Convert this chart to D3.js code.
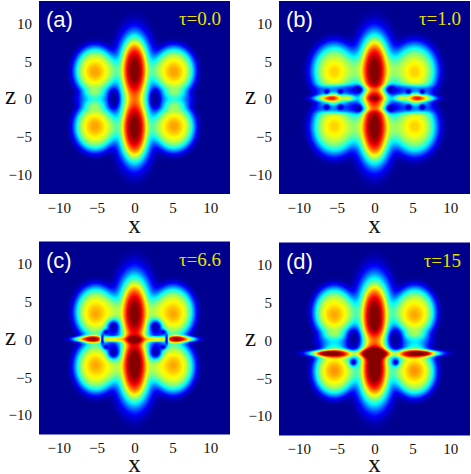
<!DOCTYPE html>
<html>
<head>
<meta charset="utf-8">
<script src="https://cdnjs.cloudflare.com/ajax/libs/d3/7.8.5/d3.min.js"></script>
<style>
html, body { margin: 0; padding: 0; background: #fff; }
svg { display: block; }
.tick text { font-family: "Liberation Serif", serif; font-size: 15px; fill: #111; }
</style>
</head>
<body>
<svg width="471" height="474">
  <defs><filter id="soft"><feGaussianBlur stdDeviation="0.6"></feGaussianBlur></filter></defs>
</svg>
<script>
var svg = d3.select("svg");

// values. Each field is an estimate built from
// bright lobes and dark holes, not the original data.
// lobe / hole rows: x, z, strength, x width, z width, edge sharpness
// rows with x != 0 are drawn on both sides of x = 0
var panelNames = ["(a)", "(b)", "(c)", "(d)"];
var tauLabels = ["τ=0.0", "τ=1.0", "τ=6.6", "τ=15"];
var xTicks = [-10, -5, 0, 5, 10];
var zTicks = [-10, -5, 0, 5, 10];
var xDomain = [-12.6, 12.6];
var zDomain = [-12.6, 13];

var lobesA = [
  [0, 3.8, 0.72, 2.35, 5.0, 3],
  [0, -3.8, 0.72, 2.35, 5.0, 3],
  [0, 3.7, 0.3, 1.4, 4, 3],
  [0, -3.7, 0.3, 1.4, 4, 3],
  [5.2, 3.7, 0.62, 2.8, 3.3, 4.5],
  [5.2, -3.7, 0.62, 2.8, 3.3, 4.5],
  [5.2, 3.6, 0.11, 1.2, 1.3, 2],
  [5.2, -3.6, 0.11, 1.2, 1.3, 2],
  [5.3, 0, 0.2, 2.5, 1.2, 4]
];
var holesA = [
  [0, 0, 0.35, 3, 2.2, 2],
  [2.7, 0, 0.88, 0.75, 1.25, 3]
];

var lobesB = [
  [0, 3.9, 0.72, 2.45, 5.1, 3],
  [0, -3.9, 0.72, 2.45, 5.1, 3],
  [0, 3.6, 0.3, 1.4, 4, 3],
  [0, -3.6, 0.3, 1.4, 4, 3],
  [0, 0.1, 0.32, 1.5, 0.5, 2],
  [5.3, 3.7, 0.59, 3.05, 3.75, 4],
  [5.3, -3.7, 0.59, 3.05, 3.75, 4],
  [5.3, 3.6, 0.09, 1.3, 1.4, 2],
  [5.3, -3.6, 0.09, 1.3, 1.4, 2],
  [5.3, 0.1, 0.24, 1.0, 0.46, 2],
  [3.3, 0.1, 0.46, 0.9, 0.4, 2],
  [6.8, 0.1, 0.36, 1.7, 0.38, 2.4]
];
var holesB = [
  [0, 0, 0.33, 3, 2.2, 2],
  [4.6, 1.3, 0.5, 3.6, 0.6, 3],
  [4.6, -1.3, 0.5, 3.6, 0.6, 3],
  [2.1, 1.25, 0.95, 0.55, 0.55, 2],
  [2.1, -1.25, 0.95, 0.55, 0.55, 2],
  [4.5, 0.95, 1, 0.33, 0.33, 2],
  [4.5, -1.05, 1, 0.38, 0.38, 2],
  [6.3, 0.95, 1, 0.33, 0.33, 2],
  [6.3, -1.05, 1, 0.38, 0.38, 2]
];

var lobesC = [
  [0, 3.7, 0.72, 2.45, 5.3, 3],
  [0, -3.9, 0.72, 2.45, 5.1, 3],
  [0, 2.9, 0.3, 1.4, 4, 3],
  [0, -3.2, 0.3, 1.4, 4, 3],
  [0, 0, 0.5, 1.6, 0.5, 2],
  [5.1, 3.6, 0.61, 2.85, 3.55, 4.5],
  [5.1, -3.6, 0.61, 2.85, 3.55, 4.5],
  [5.1, 3.4, 0.11, 1.3, 1.5, 2],
  [5.1, -3.4, 0.11, 1.3, 1.5, 2],
  [5.7, 0.05, 0.62, 1.7, 0.44, 2.6],
  [7.6, 0.05, 0.3, 1.1, 0.3, 2],
  [2.8, 0.05, 0.58, 1.2, 0.35, 2.6]
];
var holesC = [
  [0, 0, 0.38, 3, 2.2, 2],
  [2.8, 1.7, 0.9, 0.8, 0.9, 2.5],
  [2.8, -1.7, 0.9, 0.8, 0.9, 2.5],
  [4.25, 0, 0.85, 0.26, 0.75, 3],
  [3.8, 1, 0.85, 0.4, 0.33, 2],
  [3.8, -1, 0.85, 0.4, 0.33, 2]
];

var lobesD = [
  [0, 3.6, 0.72, 2.4, 5.3, 3],
  [0, -4.3, 0.72, 2.4, 4.8, 3],
  [0, 3.2, 0.3, 1.4, 3.6, 3],
  [0, -4, 0.3, 1.4, 2.8, 3],
  [0, -1.7, 0.55, 1.8, 0.6, 2],
  [5.3, 3.7, 0.61, 2.8, 3.45, 4.5],
  [5.3, -4.1, 0.61, 2.8, 3.35, 4.5],
  [5.3, 3.4, 0.11, 1.3, 1.4, 2],
  [5.3, -4.0, 0.13, 1.3, 1.4, 2],
  [5.3, 0, 0.18, 2.5, 1.2, 4],
  [4.6, -1.7, 0.5, 2.9, 0.5, 2.4],
  [7.4, -1.7, 0.42, 1.9, 0.36, 2.2]
];
var holesD = [
  [0, 0, 0.25, 3, 1.3, 2],
  [2.7, 0.2, 0.9, 0.9, 1.3, 2.5],
  [2.8, -2.9, 0.95, 0.45, 0.45, 2]
];

var lobeSets = [lobesA, lobesB, lobesC, lobesD];
var holeSets = [holesA, holesB, holesC, holesD];

var panelX = [39, 279, 39, 279];
var panelY = [1, 1, 241.5, 242.5];
var panelW = 191, panelH = 193;
var xLabelDrop = [39, 39, 37, 36];

var jetStops = [0, 0.125, 0.375, 0.625, 0.875, 1];
var jetColors = ["#00008f", "#0000ff", "#00ffff", "#ffff00", "#ff0000", "#800000"];
var color = d3.scaleLinear().domain(jetStops).range(jetColors).clamp(true);
var levels = d3.range(0.01, 1, 1 / 64);

var x = d3.scaleLinear().domain(xDomain).range([0, panelW]);
var z = d3.scaleLinear().domain(zDomain).range([panelH, 0]);

function bump(row, px, pz, sign) {
  var dx = (px - sign * row[0]) / row[3];
  var dz = (pz - row[1]) / row[4];
  return row[2] * Math.exp(-Math.pow(dx * dx + dz * dz, row[5] / 2));
}

function sumBoth(rows, px, pz, fn) {
  rows.forEach(function(row) {
    fn(bump(row, px, pz, 1));
    if (row[0] != 0) fn(bump(row, px, pz, -1));
  });
}

function buildField(lobes, holes) {
  var values = new Float64Array(panelW * panelH);
  for (var j = 0; j < panelH; j++) {
    var pz = z.invert(j + 0.5);
    for (var i = 0; i < panelW; i++) {
      var px = x.invert(i + 0.5);
      var v = 0;
      sumBoth(lobes, px, pz, function(b) { v += b; });
      sumBoth(holes, px, pz, function(b) { v *= 1 - b; });
      values[j * panelW + i] = Math.min(v, 1);
    }
  }
  return values;
}

function drawPanel(k) {
  var g = svg.append("g")
      .attr("transform", "translate(" + panelX[k] + "," + panelY[k] + ")");

  g.append("rect")
      .attr("width", panelW)
      .attr("height", panelH)
      .attr("fill", color(0));

  var contours = d3.contours()
      .size([panelW, panelH])
      .thresholds(levels)(buildField(lobeSets[k], holeSets[k]));

  g.append("g")
      .attr("filter", "url(#soft)")
    .selectAll("path")
    .data(contours)
    .enter().append("path")
      .attr("d", d3.geoPath())
      .attr("fill", function(d) { return color(d.value); });

  g.append("g")
      .attr("transform", "translate(0," + panelH + ")")
      .call(d3.axisBottom(x).tickValues(xTicks).tickSize(0).tickPadding(8))
      .call(function(a) { a.select(".domain").remove(); });

  g.append("g")
      .call(d3.axisLeft(z).tickValues(zTicks).tickSize(0).tickPadding(7))
      .call(function(a) { a.select(".domain").remove(); });

  g.append("text")
      .attr("x", panelW / 2)
      .attr("y", panelH + xLabelDrop[k])
      .attr("text-anchor", "middle")
      .attr("font-family", "Liberation Serif, serif")
      .attr("font-size", 25)
      .attr("fill", "#111")
      .text("x");

  g.append("text")
      .attr("x", -34)
      .attr("y", 103)
      .attr("font-family", "Liberation Serif, serif")
      .attr("font-size", 25)
      .attr("fill", "#111")
      .text("z");

  g.append("text")
      .attr("x", 7)
      .attr("y", 26)
      .attr("font-family", "Liberation Sans, sans-serif")
      .attr("font-size", 22)
      .attr("fill", "#fff")
      .text(panelNames[k]);

  g.append("text")
      .attr("x", 182)
      .attr("y", 24)
      .attr("text-anchor", "end")
      .attr("font-family", "Liberation Serif, serif")
      .attr("font-size", 19)
      .attr("fill", "#e6e000")
      .text(tauLabels[k]);
}

d3.range(4).forEach(drawPanel);
</script>
</body>
</html>
